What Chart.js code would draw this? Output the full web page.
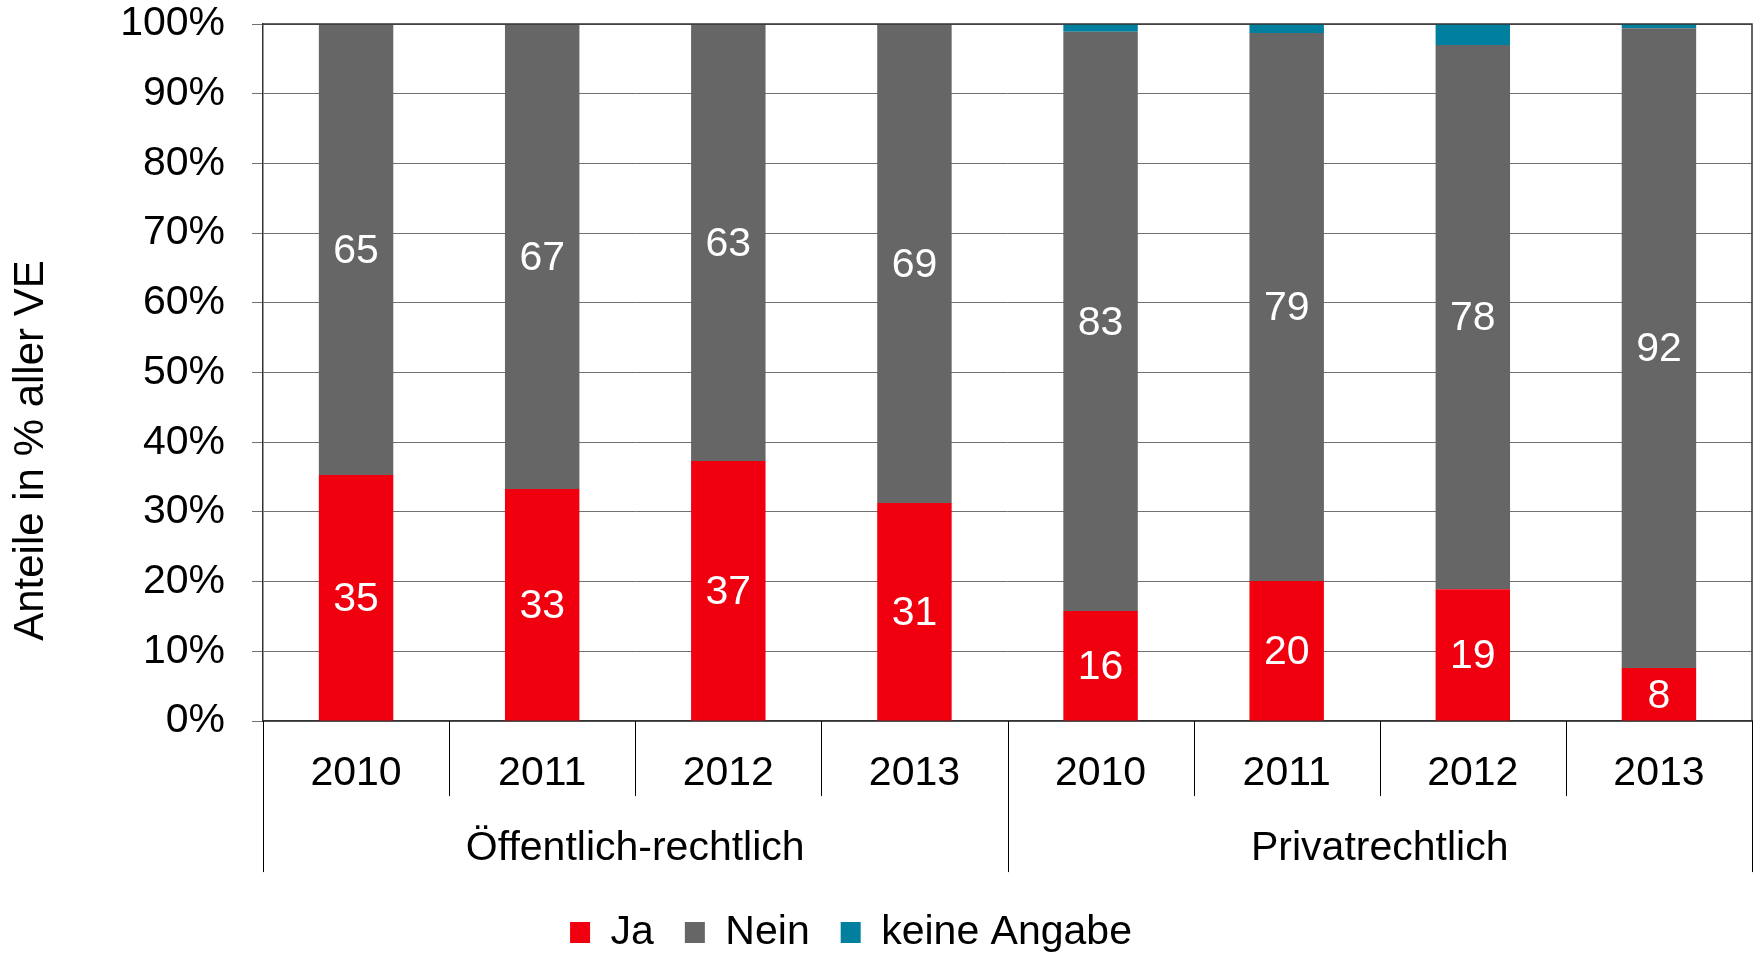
<!DOCTYPE html>
<html lang="de">
<head>
<meta charset="utf-8">
<title>Anteile in % aller VE</title>
<script src="https://cdn.jsdelivr.net/npm/chart.js@4.4.1/dist/chart.umd.min.js"></script>
<style>
  html, body { margin: 0; padding: 0; background: #fff; }
  #wrap { width: 1755px; height: 955px; position: relative; }
</style>
</head>
<body>
<div id="wrap"><canvas id="chart"></canvas></div>
<script>
// Daten
const jahre = ['2010', '2011', '2012', '2013', '2010', '2011', '2012', '2013'];
const gruppen = ['Öffentlich-rechtlich', 'Privatrechtlich'];
const ja = [35.3, 33.3, 37.3, 31.3, 15.8, 20.1, 18.9, 7.6];
const nein = [64.7, 66.7, 62.7, 68.7, 83.1, 78.6, 78.1, 91.8];
const keineAngabe = [0, 0, 0, 0, 1.1, 1.3, 3.0, 0.6];
const yTicks = [0, 10, 20, 30, 40, 50, 60, 70, 80, 90, 100];
const yTitel = 'Anteile in % aller VE';

const schrift = "'Liberation Sans', Arial, sans-serif";
Chart.defaults.font.family = schrift;
Chart.defaults.font.size = 41;
Chart.defaults.color = '#000';

// Zahlen in die Balken, Rahmen, Trennlinien unter der x-Achse, Achsentitel
const wertePlugin = {
  id: 'werte',
  afterLayout(chart) {
    // Legende etwas nach links, wie im Original
    chart.legend.left -= 25;
    chart.legend.right -= 25;
  },
  afterDatasetsDraw(chart) {
    const ctx = chart.ctx;
    ctx.save();
    ctx.fillStyle = '#fff';
    ctx.font = '41px ' + schrift;
    ctx.textAlign = 'center';
    ctx.textBaseline = 'middle';
    [0, 1].forEach(i => {
      const meta = chart.getDatasetMeta(i);
      meta.data.forEach((bar, j) => {
        const v = chart.data.datasets[i].data[j];
        ctx.fillText(Math.round(v), bar.x, (bar.y + bar.base) / 2 + 2);
      });
    });
    ctx.restore();
  },
  afterDraw(chart) {
    const a = chart.chartArea;
    const ctx = chart.ctx;
    const x = chart.scales.x;
    const n = jahre.length;
    const step = (x.right - x.left) / n;
    ctx.save();
    // Rahmen oben und rechts
    ctx.strokeStyle = '#333';
    ctx.lineWidth = 1.5;
    ctx.beginPath();
    ctx.moveTo(a.left, a.top);
    ctx.lineTo(a.right, a.top);
    ctx.lineTo(a.right, a.bottom);
    ctx.stroke();
    // Trennlinien Jahre / Gruppen
    ctx.strokeStyle = '#000';
    ctx.lineWidth = 1;
    for (let i = 0; i <= n; i++) {
      const px = Math.round(x.left + i * step) + 0.5;
      const len = (i % 4 === 0) ? 151 : 75;
      ctx.beginPath();
      ctx.moveTo(px, a.bottom);
      ctx.lineTo(px, a.bottom + len);
      ctx.stroke();
    }
    // y-Achsentitel (im Original etwas unterhalb der Mitte)
    ctx.translate(31, (a.top + a.bottom) / 2 + 78);
    ctx.rotate(-Math.PI / 2);
    ctx.fillStyle = '#000';
    ctx.font = '42px ' + schrift;
    ctx.textAlign = 'center';
    ctx.textBaseline = 'middle';
    ctx.fillText(yTitel, 0, 0);
    ctx.restore();
  }
};

new Chart(document.getElementById('chart'), {
  type: 'bar',
  data: {
    labels: jahre,
    datasets: [
      { label: 'Ja', data: ja, backgroundColor: '#F0000F' },
      { label: 'Nein', data: nein, backgroundColor: '#666666' },
      { label: 'keine Angabe', data: keineAngabe, backgroundColor: '#00809E' }
    ]
  },
  options: {
    responsive: true,
    maintainAspectRatio: false,
    animation: false,
    datasets: { bar: { categoryPercentage: 1, barPercentage: 0.4 } },
    layout: { padding: { top: 0, right: 3, left: 0, bottom: -8 } },
    plugins: {
      legend: {
        position: 'bottom',
        labels: { boxWidth: 20, boxHeight: 21, padding: 31, color: '#000' }
      },
      tooltip: { enabled: false }
    },
    scales: {
      x: {
        stacked: true,
        offset: true,
        grid: { display: false, tickLength: 28 },
        border: { display: true, color: '#333', width: 1.5 },
        ticks: { padding: 0, color: '#000' }
      },
      x2: {
        type: 'category',
        labels: gruppen,
        position: 'bottom',
        offset: true,
        grid: { display: false, tickLength: 17.5 },
        border: { display: false },
        ticks: { padding: 8, color: '#000' }
      },
      y: {
        stacked: true,
        min: 0,
        max: 100,
        afterBuildTicks: axis => { axis.ticks = yTicks.map(v => ({ value: v })); },
        afterFit: axis => { axis.width = 263; axis.paddingTop = 24; },
        grid: { color: '#707070', tickLength: 11 },
        border: { display: true, color: '#333', width: 1.5 },
        ticks: { padding: 27, color: '#000', callback: v => v + '%' }
      }
    }
  },
  plugins: [wertePlugin]
});
</script>
</body>
</html>
